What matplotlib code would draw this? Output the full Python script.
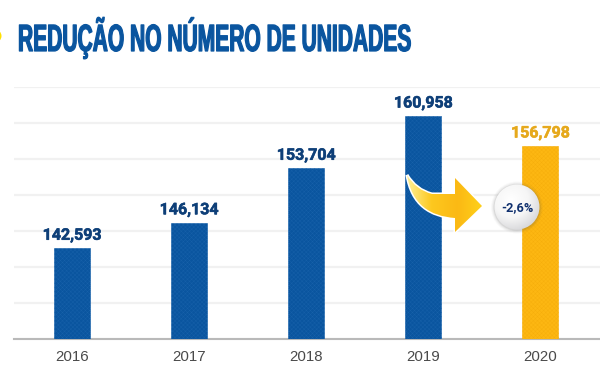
import numpy as np
import matplotlib
matplotlib.use("Agg")
import matplotlib.pyplot as plt
import matplotlib.patheffects as pe
from matplotlib.colors import LinearSegmentedColormap
from matplotlib.patches import Circle, PathPatch
from matplotlib.path import Path
from matplotlib.transforms import Affine2D

# chart data
years = ["2016", "2017", "2018", "2019", "2020"]
units = [142593, 146134, 153704, 160958, 156798]
unit_labels = ["142,593", "146,134", "153,704", "160,958", "156,798"]
change_label = "-2,6%"
title = "REDUÇÃO NO NÚMERO DE UNIDADES"

BLUE = "#0a559f"
YELLOW = "#fdb712"
NAVY = "#0e3f78"
GOLD = "#e6a91c"
TITLE_WIDTH = 393   # px
TITLE_SIZE = 15     # pt, sized for the width
TITLE_LOOK = 27.3   # pt, the height it should look like (no condensed face installed)


class Condense(pe.AbstractPathEffect):
    """Stretch text around its origin to fake a condensed face, with a small stroke."""

    def __init__(self, origin, sx, sy, stroke):
        super().__init__()
        self.origin, self.sx, self.sy, self.stroke = origin, sx, sy, stroke

    def draw_path(self, renderer, gc, tpath, affine, rgbFace=None):
        x0, y0 = self.origin
        stretched = affine + Affine2D().translate(-x0, -y0).scale(self.sx, self.sy).translate(x0, y0)
        gc0 = renderer.new_gc()
        gc0.copy_properties(gc)
        gc0.set_linewidth(self.stroke)
        gc0.set_foreground(rgbFace)
        renderer.draw_path(gc0, tpath, stretched, rgbFace)
        gc0.restore()


fig = plt.figure(figsize=(6, 3.66), dpi=100)
ax = fig.add_axes([13.5 / 600, 1 - 339 / 366, 586.5 / 600, 252 / 366])

plt.rcParams["hatch.linewidth"] = 0.3
colors = [BLUE, BLUE, BLUE, BLUE, YELLOW]
hatch_colors = ["#1761aa", "#1761aa", "#1761aa", "#1761aa", "#f6ae0b"]
label_colors = [NAVY, NAVY, NAVY, NAVY, GOLD]
x = np.arange(len(years))
ax.bar(x, units, width=0.31, color=colors, edgecolor=hatch_colors, hatch="xxxxxxxx", linewidth=0.4, zorder=3)
for xi, val, txt, col in zip(x, units, unit_labels, label_colors):
    ax.annotate(txt, (xi, val), xytext=(0, 4), textcoords="offset points",
                ha="center", va="bottom", fontsize=11.5, fontweight="bold",
                family="Roboto", color=col, zorder=4,
                path_effects=[pe.withStroke(linewidth=0.4, foreground=col)])

ax.set_xlim(-0.5, 4.51)
ax.set_ylim(130000, 165000)
ax.set_yticks(np.arange(130000, 165001, 5000))
ax.set_yticklabels([])
ax.set_xticks(x)
ax.set_xticklabels(years, fontsize=10.8, family="Liberation Sans", color="#4a4a4a")
ax.tick_params(axis="both", length=0)
ax.tick_params(axis="x", pad=8)
ax.grid(axis="y", color="#f1f1f1", linewidth=1.6, zorder=0)
for name in ["top", "left", "right"]:
    ax.spines[name].set_visible(False)
ax.spines["bottom"].set_color("#b9b9b9")
ax.spines["bottom"].set_linewidth(1.5)
ax.spines["bottom"].set_zorder(2)

# overlay in pixel coordinates for the title and the arrow/badge decoration
over = fig.add_axes([0, 0, 1, 1], facecolor="none")
over.axis("off")
over.set_xlim(0, 600)
over.set_ylim(366, 0)

title_text = over.text(18, 51, title, fontsize=TITLE_SIZE, fontweight="bold", color=BLUE,
                       family="Liberation Sans", va="baseline", ha="left")
natural = title_text.get_window_extent(fig.canvas.get_renderer())
title_text.set_path_effects([Condense(over.transData.transform((18, 51)), TITLE_WIDTH / natural.width,
                                      TITLE_LOOK / TITLE_SIZE, 0.9)])

over.add_patch(Circle((-5, 36), 6.5, color="#ffe000", lw=0))

arrow_verts = [(407, 175), (416, 190), (432, 194), (455, 194), (455, 178), (482, 206),
               (455, 232), (455, 218), (430, 216), (412, 205), (407, 175), (407, 175)]
arrow_codes = [Path.MOVETO, Path.CURVE3, Path.CURVE3, Path.LINETO, Path.LINETO, Path.LINETO,
               Path.LINETO, Path.LINETO, Path.CURVE4, Path.CURVE4, Path.CURVE4, Path.CLOSEPOLY]
arrow_path = Path(arrow_verts, arrow_codes)
over.add_patch(PathPatch(arrow_path, facecolor="none", edgecolor="white", lw=2.2, zorder=5))
arrow_clip = PathPatch(arrow_path, transform=over.transData, facecolor="none", edgecolor="none")
over.add_patch(arrow_clip)
arrow_cmap = LinearSegmentedColormap.from_list("arrow", ["#fff3a0", "#fdc81f", "#fbb914", "#ffd21a"])
arrow_img = over.imshow(np.linspace(0, 1, 128).reshape(1, -1), extent=(405, 484, 234, 172),
                        cmap=arrow_cmap, aspect="auto", zorder=6)
arrow_img.set_clip_path(arrow_clip)

for r, a in [(26, 0.03), (25, 0.05), (24, 0.07), (23.2, 0.1)]:
    over.add_patch(Circle((517, 207.5), r, color="#555555", alpha=a, lw=0, zorder=7))
yy, xx = np.mgrid[-1:1:128j, -1:1:128j]
shade = np.clip(np.hypot(xx + 0.25, yy + 0.3) / 1.5, 0, 1)
badge_cmap = LinearSegmentedColormap.from_list("badge", ["#ffffff", "#f6f6f6", "#d2d2d5"])
badge_img = over.imshow(shade, extent=(494, 540, 230, 184), cmap=badge_cmap, aspect="auto", zorder=8)
badge_clip = Circle((517, 207), 22.5, transform=over.transData, facecolor="none", edgecolor="none")
over.add_patch(badge_clip)
badge_img.set_clip_path(badge_clip)
over.text(517, 207.5, change_label, fontsize=9.2, fontweight="bold", color="#10306e",
          family="Roboto", ha="center", va="center", zorder=9)

over.set_xlim(0, 600)
over.set_ylim(366, 0)

fig.savefig("out.png", dpi=100)
plt.close(fig)
